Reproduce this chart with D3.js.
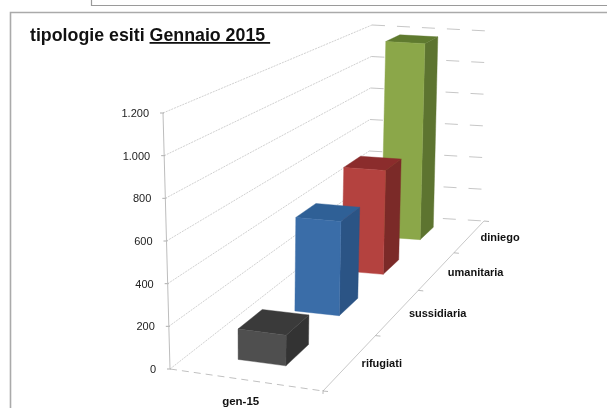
<!DOCTYPE html>
<html><head><meta charset="utf-8">
<script src="https://cdnjs.cloudflare.com/ajax/libs/d3/7.8.5/d3.min.js"></script>
<style>html,body{margin:0;padding:0;background:#fff}svg{display:block}text{font-family:"Liberation Sans",Arial,sans-serif}</style>
</head><body><svg id="c" width="607" height="408"></svg>
<script>
const categories = ["gen-15"];
const series = ["rifugiati","sussidiaria","umanitaria","diniego"];
const values = [145, 485, 580, 1180];
const frontColors = ["#4f4f4f","#3a6da8","#b4423f","#8ba749"];
const topColors = ["#3a3a3a","#2f6096","#8b2c2c","#5f7a2f"];
const sideColors = ["#333333","#2b5485","#7b2a28","#5d7430"];
const yTicks = [0,200,400,600,800,1000,1200];
const yTickLabels = ["0","200","400","600","800","1.000","1.200"];
const titlePlain = "tipologie esiti ";
const titleUnderlined = "Gennaio 2015 ";

// perspective frame: floor and top planes of the 3D plot box
const floorQuad = [[170,369],[323,391],[484,221],[368,214]];
const topQuad = [[163,113],[327,127],[488,31],[372,25]];
function homography(q){
  const [[x0,y0],[x1,y1],[x2,y2],[x3,y3]] = q;
  const dx1=x1-x2, dx2=x3-x2, sx=x0-x1+x2-x3, dy1=y1-y2, dy2=y3-y2, sy=y0-y1+y2-y3;
  const det=dx1*dy2-dx2*dy1;
  const g=(sx*dy2-dx2*sy)/det, h=(dx1*sy-sx*dy1)/det;
  const a=x1-x0+g*x1,b=x3-x0+h*x3,d=y1-y0+g*y1,e=y3-y0+h*y3;
  return (u,v)=>{const w=1+g*u+h*v;return [(x0+a*u+b*v)/w,(y0+d*u+e*v)/w];};
}
const floorH = homography(floorQuad), topH = homography(topQuad);
const zScale = d3.scaleLinear().domain([0,1200]).range([0,1]);
const uScale = d3.scaleBand().domain(categories).range([0.335,0.655]);
const dScale = d3.scaleBand().domain(series).range([0,1]).paddingInner(0.6).paddingOuter(0.3);
const dCell = d3.scaleBand().domain(series).range([0,1]);
function P(u,d,val){
  const a=floorH(u,d), b=topH(u,d), t=zScale(val);
  return [a[0]+(b[0]-a[0])*t, a[1]+(b[1]-a[1])*t];
}
const svg = d3.select("#c");
const line = d3.line();
// page frames
const fr = svg.append("g").attr("fill","none").attr("stroke","#9a9a9a");
fr.append("path").attr("d","M91.5,0V5.5H607").attr("stroke-width",1.2);
fr.append("path").attr("d","M10.5,408V12.5H607").attr("stroke","#aaa").attr("stroke-width",1.6);

const g = svg.append("g").attr("style","filter:blur(0.4px)");
// walls
yTicks.forEach(v=>{
  g.append("path").attr("d",line([P(0,0,v),P(0,1,v)])).attr("fill","none").attr("stroke","#c4c4c4").attr("stroke-width",.8).attr("stroke-dasharray","2,1");
  g.append("path").attr("d",line([P(0,1,v),P(1,1,v)])).attr("fill","none").attr("stroke","#c0c0c0").attr("stroke-width",.9).attr("stroke-dasharray","13,12");
  const p=P(0,0,v);
  g.append("path").attr("d",line([[p[0]-3,p[1]],[p[0]+1,p[1]]])).attr("stroke","#999").attr("stroke-width",.8);
  g.append("text").attr("x",p[0]-14).attr("y",p[1]).attr("dy",".36em").attr("text-anchor","end").attr("font-size",11).attr("fill","#222").text(yTickLabels[yTicks.indexOf(v)]);
});
g.append("path").attr("d",line([P(0,0,0),P(0,0,1200)])).attr("stroke","#bdbdbd").attr("stroke-width",1).attr("fill","none");
// floor edges
g.append("path").attr("d",line([P(0,0,0),P(1,0,0)])).attr("stroke","#c0c0c0").attr("fill","none").attr("stroke-dasharray","7,5");
g.append("path").attr("d",line([P(1,0,0),P(1,1,0)])).attr("stroke","#c8c8c8").attr("fill","none");
// series ticks + labels
series.forEach((s,i)=>{
  const t=P(1,dCell(s),0);
  g.append("path").attr("d",line([t,[t[0]+5,t[1]+.5]])).attr("stroke","#aaa").attr("stroke-width",.8);
  const m=P(1,dCell(s)+dCell.bandwidth()/2,0);
  g.append("text").attr("x",m[0]+11).attr("y",m[1]+1).attr("dy",".36em").attr("font-size",11).attr("font-weight","bold").attr("fill","#111").text(s);
});
const e=P(1,1,0);
g.append("path").attr("d",line([e,[e[0]+5,e[1]+.5]])).attr("stroke","#aaa").attr("stroke-width",.8);
const bt=P(1,0,0);
g.append("path").attr("d",line([[bt[0],bt[1]-1],[bt[0],bt[1]+3]])).attr("stroke","#aaa").attr("stroke-width",.8);
// category label
const cl=P(.5,0,0);
g.append("text").attr("x",cl[0]-3).attr("y",cl[1]+21).attr("dy",".36em").attr("text-anchor","middle").attr("font-size",11.5).attr("font-weight","bold").attr("fill","#111").text(categories[0]);
// bars back to front
const u0=uScale(categories[0]), u1=u0+uScale.bandwidth();
d3.range(series.length-1,-1,-1).forEach(i=>{
  const s=series[i], d0=dScale(s), d1=d0+dScale.bandwidth(), v=values[i];
  const face=(pts,c)=>g.append("path").attr("d",line(pts)+"Z").attr("fill",c).attr("stroke",c).attr("stroke-width",.4);
  face([P(u1,d0,0),P(u1,d1,0),P(u1,d1,v),P(u1,d0,v)],sideColors[i]);
  face([P(u0,d0,v),P(u1,d0,v),P(u1,d1,v),P(u0,d1,v)],topColors[i]);
  face([P(u0,d0,0),P(u1,d0,0),P(u1,d0,v),P(u0,d0,v)],frontColors[i]);
});
// title
const tt=svg.append("text").attr("x",30).attr("y",41).attr("font-size",17.8).attr("font-weight","bold").attr("fill","#111").attr("style","filter:blur(0.25px)");
tt.append("tspan").text(titlePlain);
tt.append("tspan").attr("text-decoration","underline").attr("xml:space","preserve").text(titleUnderlined);
</script></body></html>
